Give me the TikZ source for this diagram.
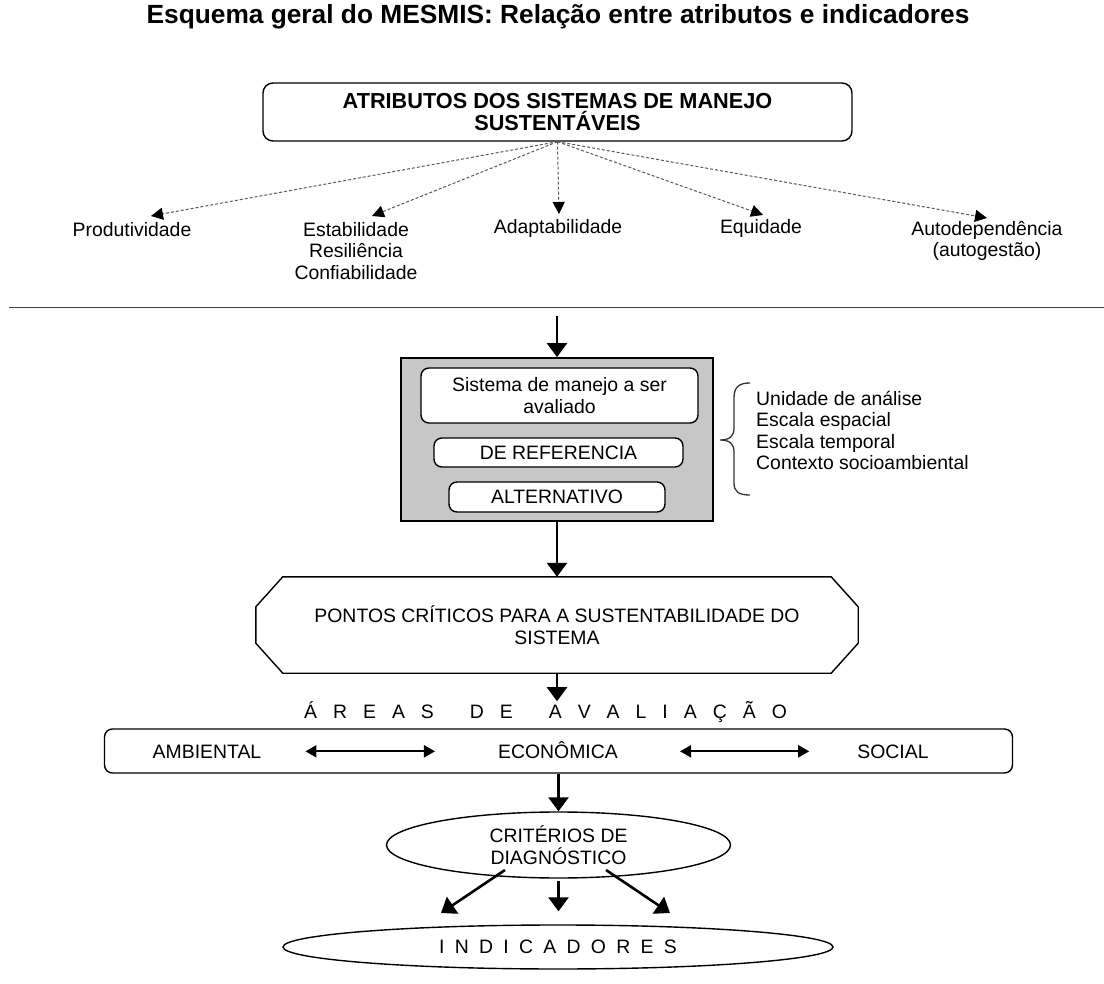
\documentclass[tikz,border=0pt]{standalone}
\usepackage{fontspec}
\setmainfont{Liberation Sans}
\usetikzlibrary{arrows.meta,shapes.geometric}
% letter spacing for the spaced-out headings
\newcommand\gapl{\hspace{16pt}}
\newcommand\gapw{\hspace{36pt}}
\newcommand\gapi{\hspace{10.3pt}}
\begin{document}
\begin{tikzpicture}[x=1pt,y=-1pt,
  txt/.style={font=\fontsize{19.4}{21.5}\selectfont, inner sep=0pt, align=center},
  roundbox/.style={draw, line width=1.4pt, rounded corners=10pt, align=center, inner sep=0pt},
  inbox/.style={draw, line width=1.4pt, rounded corners=8pt, fill=white, txt},
  bigarrow/.style={line width=2.6pt, -{Triangle[length=14pt,width=20pt]}},
  dotarrow/.style={draw=black!65, line width=1pt, dash pattern=on 3pt off 2pt,
    -{Triangle[length=12pt,width=12pt,color=black]}},
  dblarrow/.style={line width=2pt, {Triangle[length=11pt,width=12pt]}-{Triangle[length=11pt,width=12pt]}},
  oval/.style={ellipse, draw, line width=1.4pt, inner sep=0pt, txt}
]
\fill[white] (0,0) rectangle (1104,984);
\useasboundingbox (0,0) rectangle (1104,984);

% title
\node[font=\bfseries\fontsize{26.3}{30}\selectfont, inner sep=0pt] (ttl) at (558,17)
  {Esquema geral do MESMIS: Relação entre atributos e indicadores};

% attributes
\node[roundbox, minimum width=589pt, minimum height=58pt,
  font=\bfseries\fontsize{21.7}{22}\selectfont] (attr) at (557.5,112)
  {ATRIBUTOS DOS SISTEMAS DE MANEJO\\SUSTENTÁVEIS};

\node[txt] (prod)  at (132,230) {Produtividade};
\node[txt] (estab) at (356,251) {Estabilidade\\Resiliência\\Confiabilidade};
\node[txt] (adapt) at (558,228) {Adaptabilidade};
\node[txt] (equi)  at (761,228) {Equidade};
\node[txt] (auto)  at (987,241) {Autodependência\\(autogestão)};

\coordinate (tprod)  at (151,216);
\coordinate (testab) at (372,216);
\coordinate (tadapt) at (559,214);
\coordinate (tequi)  at (763,215);
\coordinate (tauto)  at (987,218);
\foreach \t in {tprod,testab,tadapt,tequi,tauto}
  \draw[dotarrow] (attr.south) -- (\t);

% separator
\coordinate (hl) at (9,307.5);
\coordinate (hr) at (1104,307.5);
\draw[line width=1.6pt, black!75] (hl) -- (hr);

% system under evaluation
\node[draw, line width=1.8pt, fill=black!22, minimum width=312pt, minimum height=163pt,
  inner sep=0pt] (eval) at (557,439.5) {};
\node[inbox, minimum width=277pt, minimum height=55pt] (sist) at (559.5,395.5)
  {Sistema de manejo a ser\\avaliado};
\node[inbox, minimum width=249pt, minimum height=29pt] (ref) at (558.5,452.5) {DE REFERENCIA};
\node[inbox, minimum width=216pt, minimum height=30pt] (alt) at (557,497) {ALTERNATIVO};

\coordinate (a1) at (557,316);
\draw[bigarrow] (a1) -- (eval.north);

% brace and scope list
\draw[line width=1.3pt, black!80]
  (750,383) .. controls (739,383) and (734,387) .. (734,398) -- (734,428)
  .. controls (734,436) and (730,440) .. (720,440)
  .. controls (730,440) and (734,444) .. (734,452) -- (734,483)
  .. controls (734,492) and (739,495) .. (750,495);
\node[txt, anchor=west, align=left] (scope) at (756,430.5)
  {Unidade de análise\\Escala espacial\\Escala temporal\\Contexto socioambiental};

% critical points
\node[txt, minimum width=602pt, minimum height=96pt] (pontos) at (557,625)
  {PONTOS CRÍTICOS PARA A SUSTENTABILIDADE DO\\SISTEMA};
\draw[line width=1.4pt]
  ([xshift=27pt]pontos.north west) -- ([xshift=-27pt]pontos.north east)
  -- ([yshift=-30pt]pontos.north east) -- ([yshift=30pt]pontos.south east)
  -- ([xshift=-27pt]pontos.south east) -- ([xshift=27pt]pontos.south west)
  -- ([yshift=30pt]pontos.south west) -- ([yshift=-30pt]pontos.north west) -- cycle;
\draw[bigarrow] (eval.south) -- (pontos.north);

% evaluation areas
\node[txt] (areas) at (545.5,712)
  {Á\gapl R\gapl E\gapl A\gapl S\gapw D\gapl E\gapw A\gapl V\gapl A\gapl L\gapl I\gapl A\gapl Ç\gapl Ã\gapl O};
\draw[bigarrow] (pontos.south) -- (pontos.south |- areas.north);

\node[roundbox, rounded corners=8pt, minimum width=908pt, minimum height=44pt] (row) at (558.5,751) {};
\node[txt, anchor=base] (amb) at (207,758) {AMBIENTAL};
\node[txt, anchor=base] (eco) at (558,758) {ECONÔMICA};
\node[txt, anchor=base] (soc) at (893,758) {SOCIAL};
\draw[dblarrow] ([xshift=44pt]amb.east) -- ([xshift=-63pt]eco.west |- amb.east);
\draw[dblarrow] ([xshift=62pt]eco.east |- soc.west) -- ([xshift=-48pt]soc.west);

% diagnostic criteria and indicators
\node[oval, minimum width=344pt, minimum height=66pt] (crit) at (558.5,845)
  {CRITÉRIOS DE\\DIAGNÓSTICO};
\draw[bigarrow] (row.south) -- (crit.north);

\node[oval, minimum width=550pt, minimum height=44pt] (ind) at (558,947)
  {I\gapi N\gapi D\gapi I\gapi C\gapi A\gapi D\gapi O\gapi R\gapi E\gapi S};

\coordinate (cl0) at (505,870);
\coordinate (cl1) at (441,913);
\coordinate (cr0) at (606,870);
\coordinate (cr1) at (670,913);
\draw[bigarrow] (cl0) -- (cl1);
\draw[bigarrow, shorten <=2pt, shorten >=13pt] (crit.south) -- (crit.south |- ind.north);
\draw[bigarrow] (cr0) -- (cr1);
\end{tikzpicture}
\end{document}
